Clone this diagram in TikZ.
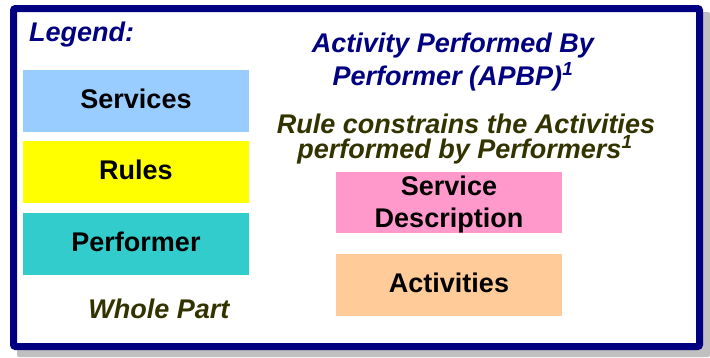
\documentclass[tikz,border=0pt]{standalone}
\usepackage{fontspec}
\setmainfont{Liberation Sans}
\definecolor{navyc}{HTML}{000080}
\definecolor{olivec}{HTML}{333300}
\definecolor{shadowc}{HTML}{C0C0C0}
\definecolor{svcc}{HTML}{99CCFF}
\definecolor{rulec}{HTML}{FFFF00}
\definecolor{perfc}{HTML}{33CCCC}
\definecolor{descc}{HTML}{FF99CC}
\definecolor{actc}{HTML}{FFCC99}
\begin{document}
\begin{tikzpicture}[x=1pt,y=-1pt,
  legbox/.style={draw=none,inner sep=0pt,minimum width=226pt,minimum height=62pt,anchor=north west},
  boxtxt/.style={font=\fontsize{27}{31}\selectfont\bfseries,text=black,anchor=base,inner sep=0pt},
  titletxt/.style={font=\fontsize{27}{31}\selectfont\bfseries\itshape,anchor=base,inner sep=0pt}]
\useasboundingbox (0,0) rectangle (710,357);
\fill[white] (0,0) rectangle (710,357);
% shadow and frame
\fill[shadowc,rounded corners=2pt] (17,12) rectangle (710,357);
\draw[navyc,line width=7pt,fill=white,rounded corners=2pt] (13.5,8.5) rectangle (699.5,346.5);
% legend title
\node[titletxt,text=navyc,anchor=base west] (legend) at (29,41) {Legend:};
% legend boxes
\node[legbox,fill=svcc] (services) at (23,70) {};
\node[legbox,fill=rulec] (rules) at (23,141) {};
\node[legbox,fill=perfc] (performer) at (23,213) {};
\node[boxtxt] (servicesT) at (136,108) {Services};
\node[boxtxt] (rulesT) at (136,179) {Rules};
\node[boxtxt] (performerT) at (136,251.5) {Performer};
% right titles
\node[titletxt,text=navyc] (apbp1) at (453,52) {Activity Performed By};
\node[titletxt,text=navyc] (apbp2) at (453,85) {Performer (APBP)\textsuperscript{1}};
\node[titletxt,text=olivec] (rule1) at (466,133) {Rule constrains the Activities};
\node[titletxt,text=olivec] (rule2) at (465,158) {performed by Performers\textsuperscript{1}};
% right boxes
\node[legbox,fill=descc,minimum height=61pt] (desc) at (336,172) {};
\node[legbox,fill=actc] (act) at (336,254) {};
\node[boxtxt] (desc1) at (449,195) {Service};
\node[boxtxt] (desc2) at (449,227) {Description};
\node[boxtxt] (actT) at (449,292) {Activities};
% whole part
\node[titletxt,text=olivec] (whole) at (159,318) {Whole Part};
\end{tikzpicture}
\end{document}
